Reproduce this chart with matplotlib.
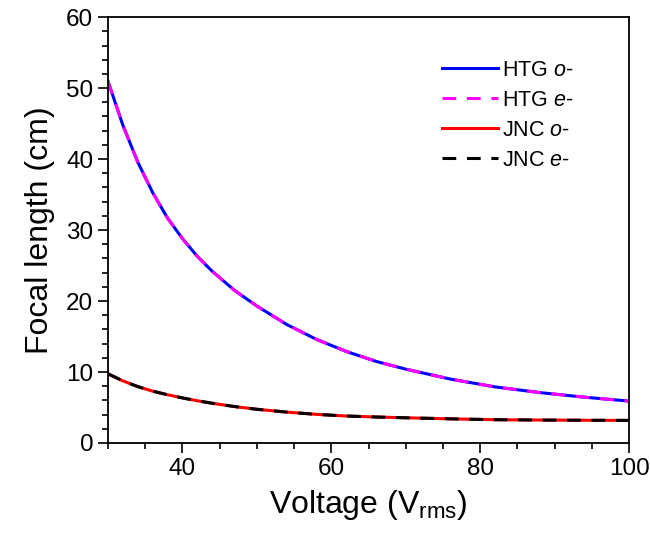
import matplotlib
matplotlib.use("Agg")
import matplotlib.pyplot as plt
from matplotlib.ticker import MultipleLocator

# Voltage (V_rms) and focal length (cm)
voltage = [30, 32, 34, 36, 38, 40, 42, 44, 47, 50, 54, 58, 62, 66, 70, 76, 82, 88, 94, 100]
htg_o = [51.0, 44.8, 39.6, 35.3, 31.7, 28.8, 26.3, 24.2, 21.5, 19.3, 16.7, 14.6, 12.9, 11.5,
         10.4, 9.0, 7.9, 7.1, 6.45, 5.9]
htg_e = [51.0, 44.8, 39.6, 35.3, 31.7, 28.8, 26.3, 24.2, 21.5, 19.3, 16.7, 14.6, 12.9, 11.5,
         10.4, 9.0, 7.9, 7.1, 6.45, 5.9]
jnc_o = [9.75, 8.75, 7.95, 7.3, 6.8, 6.35, 5.95, 5.6, 5.13, 4.75, 4.35, 4.03, 3.8, 3.66,
         3.55, 3.4, 3.28, 3.23, 3.2, 3.18]
jnc_e = [9.75, 8.75, 7.95, 7.3, 6.8, 6.35, 5.95, 5.6, 5.13, 4.75, 4.35, 4.03, 3.8, 3.66,
         3.55, 3.4, 3.28, 3.23, 3.2, 3.18]


def main():
    plt.rcParams["font.family"] = ["Liberation Sans", "DejaVu Sans"]
    plt.rcParams["mathtext.fontset"] = "custom"
    plt.rcParams["mathtext.rm"] = "Liberation Sans"
    plt.rcParams["mathtext.it"] = "Liberation Sans:italic"

    fig = plt.figure(figsize=(6.5, 5.35), dpi=100)
    ax = fig.add_axes([0.166, 0.172, 0.802, 0.796])

    dash = (0, (4.5, 3.5))
    ax.plot(voltage, htg_o, color="#0000ff", lw=2.2, label="HTG $\\it{o}$-")
    ax.plot(voltage, htg_e, color="#ff00ff", lw=2.2, ls=dash, label="HTG $\\it{e}$-")
    ax.plot(voltage, jnc_o, color="#ff0000", lw=2.2, label="JNC $\\it{o}$-")
    ax.plot(voltage, jnc_e, color="black", lw=2.2, ls=dash, label="JNC $\\it{e}$-")

    ax.set_xlim(30, 100)
    ax.set_ylim(0, 60)
    ax.xaxis.set_major_locator(MultipleLocator(20))
    ax.xaxis.set_minor_locator(MultipleLocator(5))
    ax.yaxis.set_major_locator(MultipleLocator(10))
    ax.yaxis.set_minor_locator(MultipleLocator(2))
    ax.tick_params(which="both", direction="out", width=1.2, labelsize=17.5)
    ax.tick_params(which="major", length=7)
    ax.tick_params(which="minor", length=4)
    for s in ax.spines.values():
        s.set_linewidth(1.3)

    ax.set_xlabel("Voltage (V$_{\\mathrm{rms}}$)", fontsize=23, labelpad=6)
    ax.set_ylabel("Focal length (cm)", fontsize=23, labelpad=8)

    ax.legend(loc="upper left", bbox_to_anchor=(0.625, 0.92), frameon=False,
              fontsize=15.5, handlelength=2.6, handletextpad=0.15,
              labelspacing=0.42, borderaxespad=0.0)

    fig.savefig("out.png", dpi=100)


if __name__ == "__main__":
    main()
